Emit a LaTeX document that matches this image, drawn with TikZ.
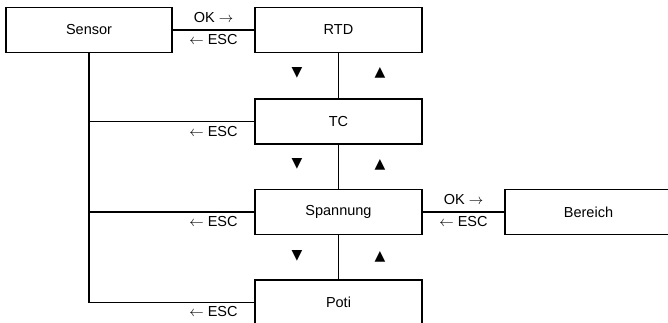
\documentclass[tikz,border=0pt]{standalone}
\usepackage{fontspec}
\setmainfont{Liberation Sans}
\newfontfamily\dejavu{DejaVu Sans}
\begin{document}
\begin{tikzpicture}[x=1pt,y=-1pt]

  \tikzset{MEN/.style={draw, line width=1.1pt, minimum width=167pt, minimum height=45pt, inner sep=0pt,
          font=\fontsize{14.5}{17}\selectfont} }
  \tikzset{KEY/.style={inner sep=0pt, font=\fontsize{14.5}{17}\selectfont} }
  \tikzset{TRI/.style={inner sep=0pt, font=\dejavu\fontsize{14}{16}\selectfont} }

  \useasboundingbox (0,0) rectangle (668,323);
  \clip (0,0) rectangle (668,323);

  \node[MEN, minimum width=166pt] (m0) at (89.0, 30.0) {Sensor};
  \node[MEN] (m1) at (338.5,  30.0) {RTD};
  \node[MEN] (m2) at (338.5, 121.5) {TC};
  \node[MEN] (m3) at (338.5, 212.0) {Spannung};
  \node[MEN] (m4) at (338.5, 302.5) {Poti};
  \node[MEN] (m5) at (588.5, 212.0) {Bereich};

  \coordinate (j2) at (m0.south |- m2.west);
  \coordinate (j3) at (m0.south |- m3.west);

  \draw[line width=1.1pt] (m0) -- (m1);
  \draw[line width=1.1pt] (m1) -- (m2);
  \draw[line width=1.1pt] (m2) -- (m3);
  \draw[line width=1.1pt] (m3) -- (m4);
  \draw[line width=1.1pt] (m3) -- (m5);
  \draw[line width=1.1pt] (m0.south) |- (m4.west);
  \draw[line width=1.1pt] (j2) -- (m2.west);
  \draw[line width=1.1pt] (j3) -- (m3.west);

  \node[KEY] (k0) at (213.5, 18.0) {OK $\rightarrow$};
  \node[KEY] (k1) at (213.5, 40.0) {$\leftarrow$ ESC};
  \node[KEY] (k2) at (213.5,131.5) {$\leftarrow$ ESC};
  \node[KEY] (k3) at (213.5,222.0) {$\leftarrow$ ESC};
  \node[KEY] (k4) at (213.5,312.0) {$\leftarrow$ ESC};
  \node[KEY] (k5) at (463.5,200.0) {OK $\rightarrow$};
  \node[KEY] (k6) at (463.5,222.0) {$\leftarrow$ ESC};

  \node[TRI] (t0) at (297.0, 73.0) {▼};
  \node[TRI] (t1) at (380.0, 73.0) {▲};
  \node[TRI] (t2) at (297.0,164.0) {▼};
  \node[TRI] (t3) at (380.0,165.0) {▲};
  \node[TRI] (t4) at (297.0,256.0) {▼};
  \node[TRI] (t5) at (380.0,257.0) {▲};
\end{tikzpicture}
\end{document}
